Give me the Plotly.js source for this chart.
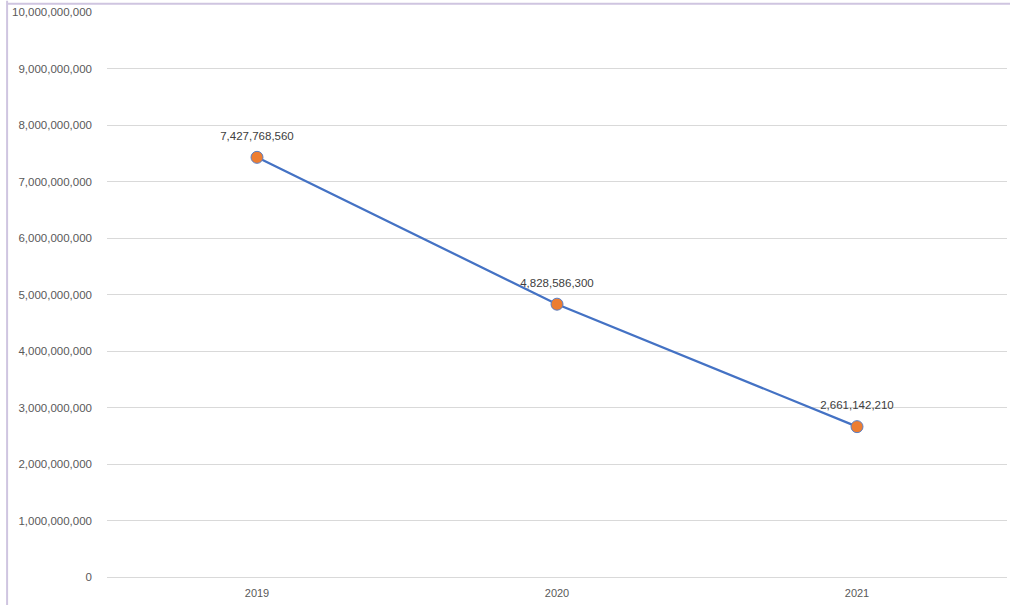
<!DOCTYPE html>
<html>
<head>
<meta charset="utf-8">
<script src="https://cdn.plot.ly/plotly-3.0.1.min.js"></script>
<style>html,body{margin:0;padding:0;background:#fff;}#chart{width:1010px;height:605px;}</style>
</head>
<body>
<div id="chart"></div>
<script>
const years = ['2019', '2020', '2021'];
const values = [7427768560, 4828586300, 2661142210];
const labels = ['7,427,768,560', '4,828,586,300', '2,661,142,210'];
const yTickVals = [0, 1e9, 2e9, 3e9, 4e9, 5e9, 6e9, 7e9, 8e9, 9e9, 1e10];
const yTickText = ['0', '1,000,000,000', '2,000,000,000', '3,000,000,000', '4,000,000,000', '5,000,000,000', '6,000,000,000', '7,000,000,000', '8,000,000,000', '9,000,000,000', '10,000,000,000'];

const FONT = 'Liberation Sans, Arial, sans-serif';

const trace = {
  x: years, y: values, type: 'scatter', mode: 'lines+markers',
  line: {color: '#4472C4', width: 2.25},
  marker: {color: '#ED7D31', size: 12, line: {color: '#5B7FC4', width: 1}},
  hoverinfo: 'skip', cliponaxis: false
};

const labelTrace = {
  x: years, y: values, type: 'scatter', mode: 'markers+text',
  text: labels, textposition: 'top center',
  textfont: {family: FONT, size: 11.5, color: '#404040'},
  marker: {color: 'rgba(0,0,0,0)', size: 22},
  hoverinfo: 'skip', cliponaxis: false
};

const layout = {
  width: 1010, height: 605,
  margin: {l: 107, r: 3, t: 12, b: 28},
  paper_bgcolor: '#fff', plot_bgcolor: '#fff',
  showlegend: false,
  font: {family: FONT, size: 11, color: '#595959'},
  xaxis: {type: 'category', range: [-0.5, 2.5], showgrid: false, zeroline: false, showline: false, ticks: '', ticklabelstandoff: 8, tickfont: {family: FONT, size: 11, color: '#595959'}},
  yaxis: {range: [0, 1e10], tickmode: 'array', tickvals: yTickVals, ticktext: yTickText, showgrid: true, gridcolor: '#D9D9D9', gridwidth: 1, zeroline: true, zerolinecolor: '#D9D9D9', zerolinewidth: 1, showline: false, ticks: '', ticklabelstandoff: 14, tickfont: {family: FONT, size: 11.5, color: '#595959'}},
  shapes: [
    {type: 'line', xref: 'paper', yref: 'paper', x0: -0.111, x1: -0.111, y0: -0.06, y1: 1.02, line: {color: '#CFC5E0', width: 2}},
    {type: 'line', xref: 'paper', yref: 'paper', x0: -0.111, x1: 1.01, y0: 1.0145, y1: 1.0145, line: {color: '#CFC5E0', width: 2}}
  ]
};

Plotly.newPlot('chart', [trace, labelTrace], layout, {displayModeBar: false, staticPlot: true});
</script>
</body>
</html>
